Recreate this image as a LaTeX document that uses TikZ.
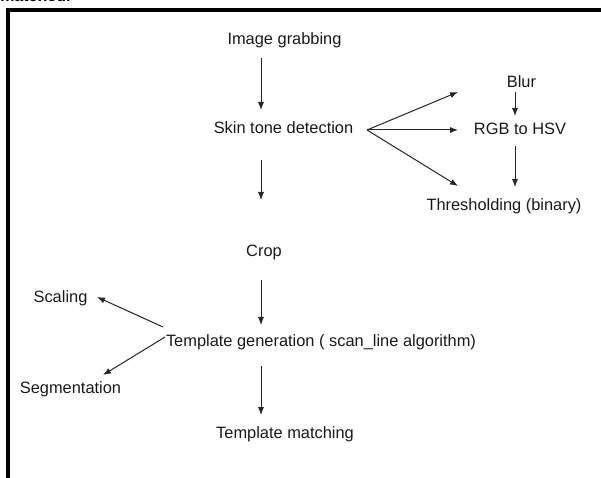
\documentclass[tikz,border=0pt]{standalone}
\usepackage{fontspec}
\setmainfont{Liberation Sans}
\usetikzlibrary{arrows.meta}
\begin{document}
\begin{tikzpicture}[x=0.75pt,y=-0.75pt,
  lbl/.style={anchor=base,inner sep=0pt,font=\fontsize{12.3}{14}\selectfont,text=black!90},
  arr/.style={draw=black!85,line width=0.75pt,-{Latex[length=6pt,width=4.6pt]}},
  frame/.style={draw=black,line width=2.3pt,line join=miter}]
\useasboundingbox (0,0) rectangle (601,478);
\begin{scope}
\clip (0,0) rectangle (601,478);
\node[anchor=base west,inner sep=0pt,font=\bfseries\fontsize{12}{14}\selectfont] (prev) at (0,1.5) {matched.};
\end{scope}
\draw[frame] (8,480) -- (8,10) -- (603,10);
\node[lbl] (img)   at (284.5,45) {Image grabbing};
\node[lbl] (skin)  at (283.5,134) {Skin tone detection};
\node[lbl] (crop)  at (264,257) {Crop};
\node[lbl] (tmpl)  at (321,347) {Template generation ( scan\_line algorithm)};
\node[lbl] (match) at (285,438) {Template matching};
\node[lbl] (blur)  at (521.5,88) {Blur};
\node[lbl] (rgb)   at (520,135) {RGB to HSV};
\node[lbl] (thr)   at (504,211) {Thresholding (binary)};
\node[lbl] (scal)  at (60.5,303) {Scaling};
\node[lbl] (seg)   at (70.5,393) {Segmentation};
\draw[arr] ([shift={(-23.5,13)}]img.base) -- ([shift={(-22.5,-24)}]skin.base);
\draw[arr] ([shift={(-22.5,26)}]skin.base) -- ([shift={(-3,-57)}]crop.base);
\draw[arr] ([shift={(-3,23)}]crop.base) -- ([shift={(-60,-22)}]tmpl.base);
\draw[arr] ([shift={(-60,19)}]tmpl.base) -- ([shift={(-24,-23)}]match.base);
\draw[arr] ([shift={(-6.5,4)}]blur.base) -- ([shift={(-5,-19)}]rgb.base);
\draw[arr] ([shift={(-5,11)}]rgb.base) -- ([shift={(11,-24)}]thr.base);
\draw[arr] ([shift={(83.5,-4)}]skin.base) -- ([shift={(-63.5,4)}]blur.base);
\draw[arr] ([shift={(83.5,-4)}]skin.base) -- ([shift={(-62,-5)}]rgb.base);
\draw[arr] ([shift={(83.5,-4)}]skin.base) -- ([shift={(-46,-25)}]thr.base);
\draw[arr] ([shift={(-158,-20)}]tmpl.base) -- ([shift={(36.5,-6)}]scal.base);
\draw[arr] ([shift={(-156,-10)}]tmpl.base) -- ([shift={(32.5,-18)}]seg.base);
\end{tikzpicture}
\end{document}
